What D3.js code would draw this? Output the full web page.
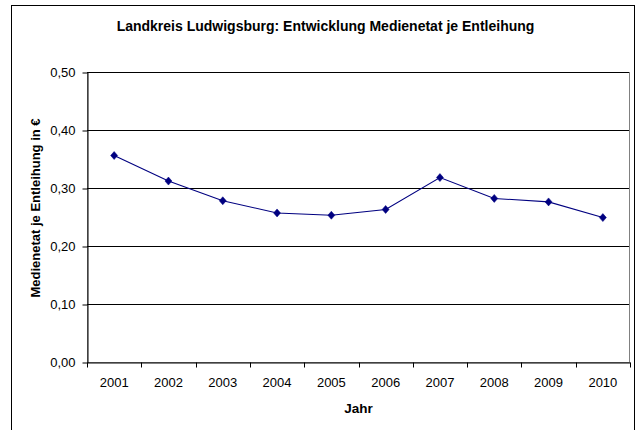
<!DOCTYPE html>
<html>
<head>
<meta charset="utf-8">
<script src="https://cdn.jsdelivr.net/npm/d3@7"></script>
<style>
  body { margin: 0; background: #fff; }
  svg { display: block; font-family: "Liberation Sans", Arial, sans-serif; }
</style>
</head>
<body>
<svg id="chart" width="641" height="430"></svg>
<script>
// chart data
const years = ['2001', '2002', '2003', '2004', '2005', '2006', '2007', '2008', '2009', '2010']
const medienetat = [0.356, 0.312, 0.278, 0.257, 0.253, 0.263, 0.318, 0.282, 0.276, 0.249]
const yTicks = [0, 0.1, 0.2, 0.3, 0.4, 0.5]

const title = 'Landkreis Ludwigsburg: Entwicklung Medienetat je Entleihung'
const xTitle = 'Jahr'
const yTitle = 'Medienetat je Entleihung in €'

const margin = {top: 72, right: 11, bottom: 68, left: 87}
const width = 641, height = 430
const de = d3.formatLocale({decimal: ',', thousands: '.', grouping: [3], currency: ['', ' €']})

const svg = d3.select('#chart')

// outer frame (runs off the bottom edge like the original)
svg.append('rect')
  .attr('x', 11.5).attr('y', 5.5)
  .attr('width', 623).attr('height', 440)
  .attr('fill', '#fff').attr('stroke', '#000').attr('stroke-width', 1)

const x = d3.scaleBand()
  .domain(years)
  .range([margin.left, width - margin.right])

const y = d3.scaleLinear()
  .domain([0, 0.5])
  .range([height - margin.bottom, margin.top])

// plot area border
svg.append('rect')
  .attr('x', margin.left + 0.5).attr('y', y(0.5) + 0.5)
  .attr('width', x.range()[1] - margin.left - 1).attr('height', y(0) - y(0.5))
  .attr('fill', 'none').attr('stroke', '#808080')

// gridlines
svg.append('g')
  .selectAll('line')
  .data(yTicks.slice(1))
  .join('line')
    .attr('x1', margin.left).attr('x2', x.range()[1] - 1)
    .attr('y1', d => Math.round(y(d)) + 0.5).attr('y2', d => Math.round(y(d)) + 0.5)
    .attr('stroke', '#000').attr('stroke-width', 1)

// y axis
const yAxis = svg.append('g')
  .attr('transform', `translate(${margin.left + 0.5},0.5)`)
  .call(d3.axisLeft(y).tickValues(yTicks).tickFormat(de.format('.2f')).tickSize(5).tickPadding(7).tickSizeOuter(0))
yAxis.select('.domain').attr('stroke', '#000')
yAxis.selectAll('.tick line').attr('stroke', '#000')
yAxis.selectAll('text').attr('font-size', 13).attr('fill', '#000').attr('font-family', null)

// x axis: labels centered on categories, ticks on category boundaries
const xAxis = svg.append('g')
  .attr('transform', `translate(0,${y(0) + 0.5})`)
  .call(d3.axisBottom(x).tickSize(0).tickPadding(15).tickSizeOuter(0))
xAxis.select('.domain').attr('stroke', '#000')
xAxis.selectAll('text').attr('font-size', 13).attr('fill', '#000').attr('font-family', null)

xAxis.selectAll('.boundary')
  .data(years.map(d => x(d)).concat([x.range()[1]]))
  .join('line')
    .attr('class', 'boundary')
    .attr('x1', d => Math.round(d) + 0.5).attr('x2', d => Math.round(d) + 0.5)
    .attr('y1', 0).attr('y2', 5)
    .attr('stroke', '#000')

// series line
const line = d3.line()
  .x((d, i) => x(years[i]) + x.bandwidth() / 2)
  .y(d => y(d))

svg.append('path')
  .datum(medienetat)
  .attr('d', line)
  .attr('fill', 'none')
  .attr('stroke', '#000080')
  .attr('stroke-width', 1.1)

// diamond markers
svg.append('g')
  .selectAll('path')
  .data(medienetat)
  .join('path')
    .attr('transform', (d, i) => `translate(${x(years[i]) + x.bandwidth() / 2},${y(d)})`)
    .attr('d', 'M0,-4L3.5,0L0,4L-3.5,0Z')
    .attr('fill', '#000080')
    .attr('stroke', '#000080')
    .attr('stroke-width', 0.5)

// titles
svg.append('text')
  .attr('x', 325.5).attr('y', 31)
  .attr('text-anchor', 'middle')
  .attr('font-size', 14).attr('font-weight', 'bold')
  .text(title)

svg.append('text')
  .attr('x', (margin.left + x.range()[1]) / 2).attr('y', 413)
  .attr('text-anchor', 'middle')
  .attr('font-size', 13.5).attr('font-weight', 'bold')
  .text(xTitle)

svg.append('text')
  .attr('transform', 'translate(39.5,208) rotate(-90)')
  .attr('text-anchor', 'middle')
  .attr('font-size', 13).attr('font-weight', 'bold')
  .text(yTitle)
</script>
</body>
</html>
